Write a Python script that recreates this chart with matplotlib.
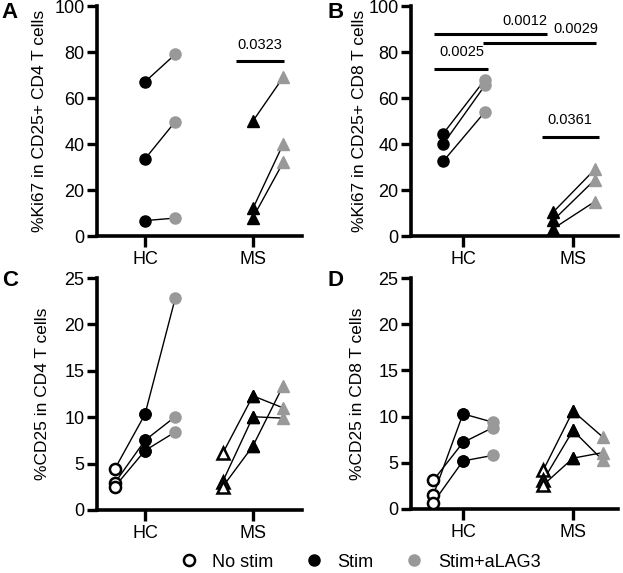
import matplotlib.pyplot as plt
from matplotlib.lines import Line2D

plt.rcParams['font.family'] = ['Liberation Sans', 'DejaVu Sans']

groups = ['HC', 'MS']
legend_labels = ['No stim', 'Stim', 'Stim+aLAG3']
grey = '#999999'

# panel A: %Ki67 in CD25+ CD4 T cells (per donor: stim, stim+aLAG3)
a_hc_stim = [67, 33.5, 6.7]
a_hc_alag3 = [79, 49.7, 7.8]
a_ms_stim = [50, 12, 8]
a_ms_alag3 = [69, 40, 32]

# panel B: %Ki67 in CD25+ CD8 T cells
b_hc_stim = [44.5, 40, 32.5]
b_hc_alag3 = [68, 65.5, 54]
b_ms_stim = [10.4, 6.8, 3.2]
b_ms_alag3 = [29, 24.5, 15]

# panel C: %CD25 in CD4 T cells
c_hc_nostim = [4.4, 2.9, 2.5]
c_hc_stim = [10.3, 7.5, 6.4]
c_hc_alag3 = [22.8, 10.05, 8.4]
c_ms_nostim = [6.1, 3.05, 2.5]
c_ms_stim = [12.3, 10.05, 6.9]
c_ms_alag3 = [11.0, 9.9, 13.4]

# panel D: %CD25 in CD8 T cells
d_hc_nostim = [1.5, 3.1, 0.7]
d_hc_stim = [10.3, 7.2, 5.2]
d_hc_alag3 = [9.4, 8.8, 5.8]
d_ms_nostim = [4.2, 3.1, 2.6]
d_ms_stim = [10.6, 8.5, 5.5]
d_ms_alag3 = [7.8, 5.3, 6.1]

# significance annotations: (x0, x1, y, text, text_x, text_y)
a_sig = [(1.84, 2.29, 76, '0.0323', 2.06, 80)]
b_sig = [(0.74, 1.23, 72.6, '0.0025', 0.99, 77),
         (0.74, 1.76, 87.7, '0.0012', 1.56, 90.5),
         (1.18, 2.21, 84, '0.0029', 2.03, 87),
         (1.72, 2.24, 43.1, '0.0361', 1.97, 47.5)]


def style(ax, ymax, ystep, ylabel, xlim, labx):
    for s in ['top', 'right']:
        ax.spines[s].set_visible(False)
    for s in ['left', 'bottom']:
        ax.spines[s].set_linewidth(2.6)
    ax.set_ylim(0, ymax)
    ax.set_xlim(*xlim)
    ax.set_yticks(range(0, ymax + 1, ystep))
    ax.set_xticks([1, 2])
    ax.set_xticklabels(groups)
    ax.tick_params(axis='y', length=7, width=2.4, pad=2, labelsize=13)
    ax.tick_params(axis='x', length=8, width=2.4, pad=3, labelsize=13)
    ax.set_ylabel(ylabel, fontsize=12.5)
    ax.yaxis.set_label_coords(labx, 0.5)


def pairs(ax, x0, x1, v0, v1, marker, c0, c1, open0=False):
    for y0, y1 in zip(v0, v1):
        ax.plot([x0, x1], [y0, y1], color='black', lw=1.0, zorder=2)
    if open0:
        ax.plot([x0] * len(v0), v0, ls='none', marker=marker, ms=8, mfc='white',
                mec='black', mew=1.8, zorder=3)
    else:
        ax.plot([x0] * len(v0), v0, ls='none', marker=marker, ms=8, color=c0, zorder=3)
    ax.plot([x1] * len(v1), v1, ls='none', marker=marker, ms=8, color=c1, zorder=3)


def sig(ax, items):
    for x0, x1, y, t, tx, ty in items:
        ax.plot([x0, x1], [y, y], color='black', lw=2.2, solid_capstyle='butt',
                clip_on=False)
        ax.text(tx, ty, t, ha='center', va='bottom', fontsize=10.5)


fig = plt.figure(figsize=(6.23, 5.73), dpi=100)
axA = fig.add_axes([0.1557, 0.5881, 0.329, 0.4014])
axB = fig.add_axes([0.6597, 0.5881, 0.3323, 0.4014])
axC = fig.add_axes([0.1557, 0.1100, 0.329, 0.4048])
axD = fig.add_axes([0.6597, 0.1117, 0.3323, 0.4031])

# A
pairs(axA, 1, 1.28, a_hc_stim, a_hc_alag3, 'o', 'black', grey)
pairs(axA, 2, 2.28, a_ms_stim, a_ms_alag3, '^', 'black', grey)
sig(axA, a_sig)
style(axA, 100, 20, '%Ki67 in CD25+ CD4 T cells', (0.556, 2.454), -0.244)

# B
pairs(axB, 0.82, 1.2, b_hc_stim, b_hc_alag3, 'o', 'black', grey)
pairs(axB, 1.82, 2.2, b_ms_stim, b_ms_alag3, '^', 'black', grey)
sig(axB, b_sig)
style(axB, 100, 20, '%Ki67 in CD25+ CD8 T cells', (0.527, 2.41), -0.213)

# C
pairs(axC, 0.72, 1, c_hc_nostim, c_hc_stim, 'o', 'white', 'black', open0=True)
pairs(axC, 1, 1.28, c_hc_stim, c_hc_alag3, 'o', 'black', grey)
pairs(axC, 1.72, 2, c_ms_nostim, c_ms_stim, '^', 'white', 'black', open0=True)
pairs(axC, 2, 2.28, c_ms_stim, c_ms_alag3, '^', 'black', grey)
style(axC, 25, 5, '%CD25 in CD4 T cells', (0.556, 2.454), -0.23)

# D
pairs(axD, 0.73, 1, d_hc_nostim, d_hc_stim, 'o', 'white', 'black', open0=True)
pairs(axD, 1, 1.27, d_hc_stim, d_hc_alag3, 'o', 'black', grey)
pairs(axD, 1.73, 2, d_ms_nostim, d_ms_stim, '^', 'white', 'black', open0=True)
pairs(axD, 2, 2.27, d_ms_stim, d_ms_alag3, '^', 'black', grey)
style(axD, 25, 5, '%CD25 in CD8 T cells', (0.527, 2.41), -0.222)

for t, x, y in [('A', 0.0145, 0.979), ('B', 0.539, 0.979), ('C', 0.016, 0.511), ('D', 0.539, 0.511)]:
    fig.text(x, y, t, fontsize=16, fontweight='bold', ha='center', va='center')

handles = [
    Line2D([], [], ls='none', marker='o', ms=8, mfc='white', mec='black', mew=1.8),
    Line2D([], [], ls='none', marker='o', ms=8, color='black'),
    Line2D([], [], ls='none', marker='o', ms=8, color=grey),
]
fig.legend(handles, legend_labels, loc='center', bbox_to_anchor=(0.578, 0.019), ncol=3,
           frameon=False, fontsize=13, handlelength=1.0, handletextpad=0.8,
           columnspacing=1.75, borderpad=0, borderaxespad=0)

fig.savefig('out.png', dpi=100)
